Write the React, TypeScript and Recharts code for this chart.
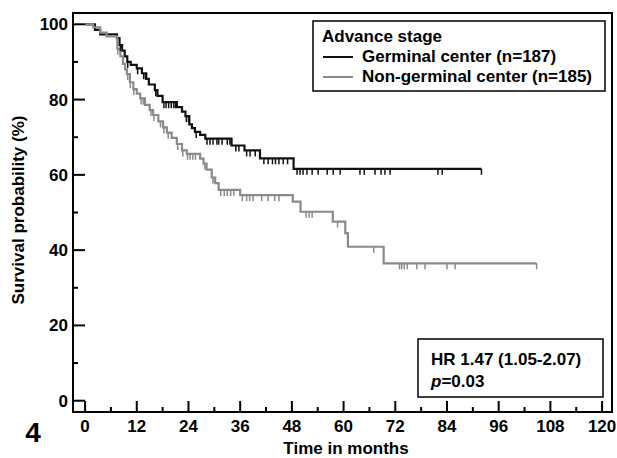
import React from 'react';
import { ComposedChart, Line, Scatter, XAxis, YAxis, ReferenceArea } from 'recharts';

// Kaplan-Meier steps: [months, survival %]
const germinalSteps: [number, number][] = [
  [0, 100], [2.3, 98.5], [3.5, 97.3], [7.4, 96.3], [8, 94.5], [8.6, 93], [9.2, 91.5], [9.8, 90],
  [10.6, 89.2], [12, 88.3], [13.2, 87], [14.2, 85.5], [14.8, 84], [16.2, 82.5], [16.8, 81],
  [18, 79.3], [21.3, 78], [22.5, 76.8], [23.3, 75.6], [24.2, 73.4], [24.8, 72.4], [25.5, 71.4],
  [26.7, 70.6], [27.9, 69.6], [34, 67.8], [37, 66.5], [40.6, 64.4], [48.4, 61.6], [92, 61.6],
];
const nonGerminalSteps: [number, number][] = [
  [0, 100], [1.9, 99.2], [3.5, 97.8], [5, 96.8], [7.5, 93.5], [8.2, 91.5], [8.8, 89.5], [9.3, 88],
  [9.7, 86.8], [10.4, 84.6], [11.2, 82.8], [12, 81.6], [12.8, 80.3], [13.9, 78.6], [15, 77.2],
  [15.8, 75.9], [17, 74.2], [18.1, 72.6], [19, 71.2], [20.1, 69.8], [21.3, 68.2], [22.5, 66.5],
  [23.6, 65.6], [26.7, 64.3], [27.5, 63], [28.2, 61.4], [29.4, 59.3], [30.2, 57.8], [31, 56],
  [36, 54.6], [48.2, 52.9], [50, 50.2], [57.5, 47.6], [60.4, 44.5], [61, 40.9], [69.3, 36.5],
  [104.8, 36.5],
];

// censored observations (months)
const germinalCensored = [
  8.2, 9.9, 12.2, 13.6, 14, 16.4, 18.3, 18.8, 19.4, 20, 20.6, 21, 23.5, 24, 25.8,
  28.3, 29, 29.7, 30.6, 31, 31.8, 33, 33.6, 35, 35.7, 37.5, 38.3, 39.5,
  41.5, 42.5, 43.5, 44.2, 45, 46, 47, 49.2, 49.9, 50.6, 51.5, 52.7, 54.1, 56.2, 57.6, 59.2,
  63.8, 64.8, 67.3, 68.7, 69.6, 70.8, 81.9, 82.9, 92,
];
const nonGerminalCensored = [
  7.6, 9.9, 10.5, 11.3, 13, 13.5, 15.3, 16, 17.5, 18.3, 19.3, 21.5, 22.7, 23.8, 24.4, 25, 25.6,
  27.8, 29.7, 31.5, 32.3, 33, 33.8, 34.5, 36.5, 37.5, 38.2, 39, 41, 42.5, 44, 45,
  51.3, 52, 52.7, 58.6, 67, 73, 73.5, 74.1, 74.8, 77, 78.9, 84, 85.9, 104.8,
];

const xTicks = [0, 6, 12, 18, 24, 30, 36, 42, 48, 54, 60, 66, 72, 78, 84, 90, 96, 102, 108, 114, 120];
const yTicks = [0, 10, 20, 30, 40, 50, 60, 70, 80, 90, 100];

const toRows = (steps: [number, number][]) => steps.map(([t, s]) => ({ t, s }));
const survivalAt = (steps: [number, number][], t: number) => {
  let s = steps[0][1];
  for (const [st, sv] of steps) if (st <= t) s = sv;
  return s;
};
const censorRows = (steps: [number, number][], times: number[]) =>
  times.map((t) => ({ t, s: survivalAt(steps, t) }));

const FONT = '"Liberation Sans", Arial, sans-serif';
const BLACK = '#111';
const GREY = '#8a8a8a';

const XTick = (props: any) => {
  const { x, y, payload } = props;
  const major = payload.value % 12 === 0;
  return (
    <g>
      <line x1={x} y1={y} x2={x} y2={y - (major ? 11 : 5)} stroke="#000" strokeWidth={2} />
      {major && (
        <text x={x} y={y + 20} textAnchor="middle" fontFamily={FONT} fontWeight="bold" fontSize={17} fill="#000">
          {payload.value}
        </text>
      )}
    </g>
  );
};

const YTick = (props: any) => {
  const { x, y, payload } = props;
  const major = payload.value % 20 === 0;
  return (
    <g>
      <line x1={x} y1={y} x2={x + (major ? 12 : 5)} y2={y} stroke="#000" strokeWidth={2} />
      {major && (
        <text x={x - 5} y={y + 6} textAnchor="end" fontFamily={FONT} fontWeight="bold" fontSize={17} fill="#000">
          {payload.value}
        </text>
      )}
    </g>
  );
};

const censorShape = (color: string) => (props: any) => {
  const { cx, cy } = props;
  return <line x1={cx} y1={cy} x2={cx} y2={cy + 6} stroke={color} strokeWidth={1.5} />;
};

export default function App() {
  return (
    <div style={{ position: 'absolute', left: 0, top: 0, width: 617, height: 458, background: '#fff' }}>
      <ComposedChart width={617} height={458} margin={{ top: 13, right: 5, bottom: 16, left: 13 }}>
        <XAxis
          type="number"
          dataKey="t"
          domain={[-2.8, 122.3]}
          ticks={xTicks}
          interval={0}
          allowDataOverflow
          axisLine={false}
          tickLine={false}
          tickSize={0}
          tickMargin={0}
          height={30}
          tick={XTick}
        />
        <YAxis
          type="number"
          dataKey="s"
          domain={[-3, 103]}
          ticks={yTicks}
          interval={0}
          allowDataOverflow
          axisLine={false}
          tickLine={false}
          tickSize={0}
          tickMargin={0}
          width={60}
          tick={YTick}
        />
        <ReferenceArea x1={-2.8} x2={122.3} y1={-3} y2={103} fill="none" stroke="#000" strokeWidth={2} ifOverflow="visible" />
        <Line data={toRows(germinalSteps)} dataKey="s" type="stepAfter" stroke={BLACK} strokeWidth={2.2} dot={false} isAnimationActive={false} />
        <Line data={toRows(nonGerminalSteps)} dataKey="s" type="stepAfter" stroke={GREY} strokeWidth={2.2} dot={false} isAnimationActive={false} />
        <Scatter data={censorRows(germinalSteps, germinalCensored)} dataKey="s" shape={censorShape(BLACK)} isAnimationActive={false} />
        <Scatter data={censorRows(nonGerminalSteps, nonGerminalCensored)} dataKey="s" shape={censorShape(GREY)} isAnimationActive={false} />
      </ComposedChart>
      <svg width={617} height={458} style={{ position: 'absolute', left: 0, top: 0, pointerEvents: 'none' }}>
        {/* legend */}
        <rect x={313} y={21} width={292} height={70} fill="#fff" stroke="#000" strokeWidth={1.5} />
        <text x={322} y={42} fontFamily={FONT} fontWeight="bold" fontSize={17} fill="#000">Advance stage</text>
        <line x1={323} y1={57} x2={353} y2={57} stroke={BLACK} strokeWidth={2} />
        <text x={362} y={62} fontFamily={FONT} fontWeight="bold" fontSize={17} fill="#000">Germinal center (n=187)</text>
        <line x1={323} y1={77} x2={353} y2={77} stroke={GREY} strokeWidth={2} />
        <text x={362} y={82} fontFamily={FONT} fontWeight="bold" fontSize={17} fill="#000">Non-germinal center (n=185)</text>
        {/* hazard ratio box */}
        <rect x={418} y={339} width={185} height={58} fill="#fff" stroke="#000" strokeWidth={1.5} />
        <text x={431} y={365} fontFamily={FONT} fontWeight="bold" fontSize={17} fill="#000">HR 1.47 (1.05-2.07)</text>
        <text x={431} y={387} fontFamily={FONT} fontWeight="bold" fontSize={17} fill="#000">
          <tspan fontStyle="italic">p</tspan>=0.03
        </text>
        <text x={346} y={454} textAnchor="middle" fontFamily={FONT} fontWeight="bold" fontSize={17} fill="#000">Time in months</text>
        <text transform="translate(24,210) rotate(-90)" textAnchor="middle" fontFamily={FONT} fontWeight="bold" fontSize={17} fill="#000">
          Survival probability (%)
        </text>
        <text x={33} y={442} textAnchor="middle" fontFamily={FONT} fontWeight="bold" fontSize={28} fill="#000">4</text>
      </svg>
    </div>
  );
}
